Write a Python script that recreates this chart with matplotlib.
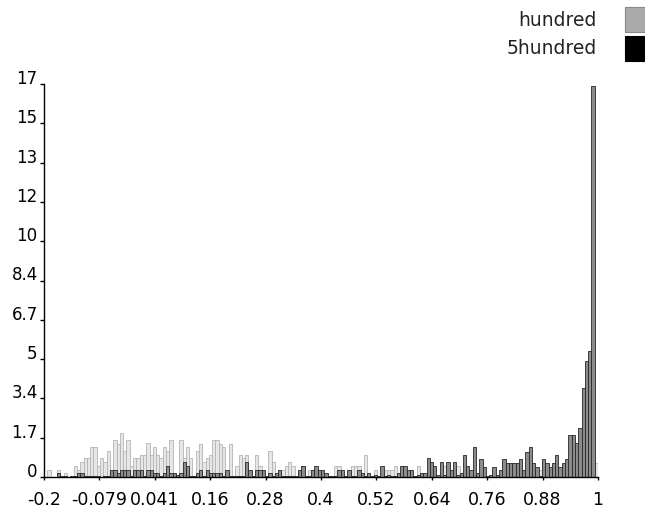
import numpy as np
import matplotlib
matplotlib.use("Agg")
import matplotlib.pyplot as plt
from matplotlib.patches import Rectangle

plt.rcParams["font.family"] = ["DejaVu Sans"]

# histogram heights per bin, 168 bins over [-0.2, 1.0]
hundred = [
    0, .32, 0, 0, .32, 0, .17, 0, 0, .46,
    .32, .62, .8, .8, 1.28, 1.28, .48, .8, .62, 1.1,
    .3, 1.6, 1.42, 1.9, 1.1, 1.6, .48, .8, .8, .95,
    .95, 1.45, .95, 1.28, .95, .8, 1.28, 1.1, 1.6, 0,
    0, 1.6, .8, 1.28, .8, 0, 1.1, 1.42, .62, .8,
    .95, 1.6, 1.6, 1.42, 1.28, .1, 1.42, 0, .48, .95,
    .8, .95, .32, 0, .95, .48, 0, 0, 1.1, .62,
    0, .32, .32, .48, .62, .48, 0, .32, .48, 0,
    .32, .32, 0, 0, 0, 0, 0, 0, .48, .48,
    0, 0, .1, .48, .48, .48, 0, .95, 0, 0,
    .32, 0, 0, .32, .32, .32, .48, 0, 0, 0,
    0, 0, 0, .48, 0, 0, 0, 0, 0, 0,
    0, .48, 0, 0, 0, .48, 0, 0, 0, 0,
    0, 0, 0, 0, 0, 0, 0, 0, 0, 0,
    0, 0, 0, 0, 0, 0, 0, 0, 0, 0,
    .29, 0, 0, 0, 0, 0, 0, 0, 0, 0,
    0, 0, 0, 0, 0, 0, 0, .58,
]
fivehundred = [
    0, 0, 0, 0, .15, .05, .05, 0, .05, .05,
    .15, .15, .05, .05, .05, .05, .05, 0, .05, .05,
    .32, .32, .15, .32, .32, .32, .05, .32, .32, .32,
    .05, .32, .32, .15, .15, .05, .15, .48, .15, .15,
    .1, .15, .62, .48, .05, .05, .15, .32, .05, .32,
    .15, .15, .15, .15, .05, .32, .05, .05, .05, .05,
    .05, .62, .32, .05, .32, .32, .32, .05, .15, .05,
    .15, .32, .05, .05, .05, .05, .05, .32, .48, .05,
    .05, .32, .48, .32, .32, .15, .05, .05, .05, .32,
    .32, .05, .32, .05, .05, .32, .15, .05, .15, .05,
    .1, .05, .48, .05, .1, .05, .05, .15, .48, .48,
    .32, .32, .05, .1, .15, .15, .8, .65, .48, .1,
    .65, .1, .65, .32, .65, .1, .15, .95, .48, .32,
    1.3, .15, .77, .43, .05, .1, .43, .1, .29, .77,
    .58, .58, .58, .58, .77, .29, 1.07, 1.3, .58, .43,
    .05, .77, .58, .43, .58, .94, .43, .58, .77, 1.8,
    1.8, 1.45, 2.1, 3.8, 4.95, 5.4, 16.7, 0,
]
x_ticks = [-0.2, -0.08, 0.04, 0.16, 0.28, 0.4, 0.52, 0.64, 0.76, 0.88, 1.0]
x_labels = ["-0.2", "-0.079", "0.041", "0.16", "0.28", "0.4", "0.52", "0.64", "0.76", "0.88", "1"]
y_ticks = [0, 1.68, 3.36, 5.04, 6.72, 8.4, 10.08, 11.76, 13.44, 15.12, 16.8]
y_labels = ["0", "1.7", "3.4", "5", "6.7", "8.4", "10", "12", "13", "15", "17"]
series = ["hundred", "5hundred"]

edges = np.linspace(-0.2, 1.0, len(hundred) + 1)

fig = plt.figure(figsize=(6.45, 5.11), dpi=100)
ax = fig.add_axes([44 / 645, 34 / 511, 554 / 645, 393 / 511])

ax.bar(edges[:-1], hundred, width=np.diff(edges), align="edge",
       facecolor="#e6e6e6", edgecolor="#b4b4b4", lw=0.6)
ax.bar(edges[:-1], fivehundred, width=np.diff(edges), align="edge",
       facecolor="#8c8c8c", edgecolor="#262626", lw=0.6)

ax.set_xlim(-0.2, 1.0)
ax.set_ylim(0, 16.8)
for s in ["top", "right"]:
    ax.spines[s].set_visible(False)
for s in ["left", "bottom"]:
    ax.spines[s].set_linewidth(1.0)

ax.set_xticks(x_ticks)
ax.set_xticklabels(x_labels, fontsize=12.5)
ax.set_yticks(y_ticks)
ax.set_yticklabels(y_labels, fontsize=12)
ax.tick_params(axis="x", direction="out", length=2.5, width=1, pad=7.5)
ax.tick_params(axis="y", direction="out", length=3, width=1, pad=1.5)
for lab in ax.get_yticklabels():
    lab.set_verticalalignment("baseline")

# legend, top right outside the axes
leg_colors = ["#aaaaaa", "#000000"]
leg_edges = ["#888888", "#000000"]
for i, name in enumerate(series):
    yc = 1 - (20 + 29 * i) / 511
    fig.text(597 / 645, yc, name, ha="right", va="center", fontsize=13.5, color="#222222")
    fig.patches.append(Rectangle((625 / 645, yc - 12.5 / 511), 20 / 645, 25 / 511,
                                 transform=fig.transFigure, facecolor=leg_colors[i],
                                 edgecolor=leg_edges[i], lw=0.8))

fig.savefig("out.png", dpi=100)
